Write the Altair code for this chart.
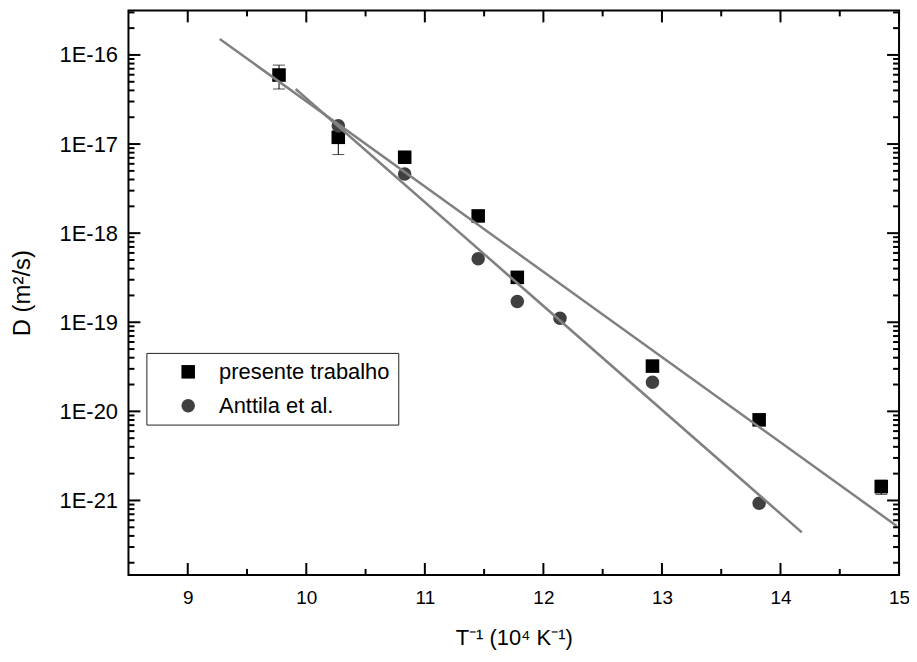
import altair as alt
import pandas as pd

# ---- data ----
series = ["presente trabalho", "Anttila et al."]

sq_x = [9.77, 10.27, 10.83, 11.45, 11.78, 12.92, 13.82, 14.85]
sq_d = [5.95e-17, 1.19e-17, 7.11e-18, 1.56e-18, 3.19e-19, 3.22e-20, 8.03e-21, 1.43e-21]

err_x = [9.77, 10.27, 14.85]
err_lo = [4.15e-17, 7.62e-18, 1.17e-21]
err_hi = [7.69e-17, 1.62e-17, 1.69e-21]

ant_x = [10.27, 10.83, 11.45, 11.78, 12.14, 12.92, 13.82]
ant_d = [1.60e-17, 4.62e-18, 5.16e-19, 1.71e-19, 1.11e-19, 2.12e-20, 9.29e-22]

fitA_x = [9.27, 14.98]
fitA_d = [1.51e-16, 5.18e-22]
fitB_x = [9.91, 14.18]
fitB_d = [4.15e-17, 4.38e-22]

x_major = [9, 10, 11, 12, 13, 14, 15]
x_minor = [9.5, 10.5, 11.5, 12.5, 13.5, 14.5]
decades = [1e-22, 1e-21, 1e-20, 1e-19, 1e-18, 1e-17, 1e-16]
mults = [2, 3, 4, 5, 6, 7, 8, 9]

X_DOMAIN = [8.5, 15]
Y_DOMAIN = [1.46e-22, 3.16e-16]

# ---- tables ----
pts = pd.DataFrame({
    "x": sq_x + ant_x,
    "d": sq_d + ant_d,
    "series": [series[0]] * len(sq_x) + [series[1]] * len(ant_x),
})
err = pd.DataFrame({"x": err_x, "lo": err_lo, "hi": err_hi})
fits = pd.DataFrame({
    "x": fitA_x + fitB_x,
    "d": fitA_d + fitB_d,
    "fit": ["A"] * len(fitA_x) + ["B"] * len(fitB_x),
})
y_major = pd.DataFrame({"v": [v for v in decades if Y_DOMAIN[0] <= v <= Y_DOMAIN[1]]})
y_minor = pd.DataFrame({"v": [m * v for v in decades for m in mults
                              if Y_DOMAIN[0] <= m * v <= Y_DOMAIN[1]]})
xM = pd.DataFrame({"v": x_major})
xm = pd.DataFrame({"v": x_minor})

W, H = 774, 567
FONT = "Liberation Sans"

xs = alt.Scale(domain=X_DOMAIN, nice=False, zero=False)
ys = alt.Scale(type="log", domain=Y_DOMAIN, nice=False)

xaxis = alt.Axis(title="T⁻¹ (10⁴ K⁻¹)", values=x_major, format="d", ticks=False,
                 domain=False, grid=False, labelFlush=False, labelPadding=14,
                 labelFontSize=19, titleFontSize=22, titlePadding=20,
                 labelColor="black", titleColor="black", titleFontWeight="normal")
yaxis = alt.Axis(title="D (m²/s)", values=decades[1:],
                 labelExpr="'1E' + round(log(datum.value) / LN10)",
                 ticks=False, domain=False, grid=False, labelPadding=11,
                 labelFontSize=22, titleFontSize=24, titlePadding=25,
                 labelColor="black", titleColor="black", titleFontWeight="normal")


def X(f):
    return alt.X(f, type="quantitative", scale=xs, axis=xaxis)


def Y(f):
    return alt.Y(f, type="quantitative", scale=ys, axis=yaxis)


errbars = alt.Chart(err).mark_rule(color="black", strokeWidth=1).encode(
    x=X("x"), y=Y("lo"), y2="hi")
cap_lo = alt.Chart(err).mark_tick(color="black", orient="horizontal", size=12,
                                  thickness=1).encode(x=X("x"), y=Y("lo"))
cap_hi = alt.Chart(err).mark_tick(color="black", orient="horizontal", size=12,
                                  thickness=1).encode(x=X("x"), y=Y("hi"))

leg = alt.Legend(title=None, orient="none", legendX=18, legendY=344,
                 strokeColor="#222222", fillColor="white", padding=8,
                 symbolOffset=23, labelOffset=20, rowPadding=12, labelLimit=400,
                 labelFontSize=22, labelFont=FONT, labelColor="black",
                 symbolSize=185, symbolStrokeWidth=0, cornerRadius=0)

points = alt.Chart(pts).mark_point(filled=True, opacity=1, size=185).encode(
    x=X("x"), y=Y("d"),
    color=alt.Color("series:N", scale=alt.Scale(domain=series, range=["#000000", "#404040"]),
                    legend=leg),
    shape=alt.Shape("series:N", scale=alt.Scale(domain=series, range=["square", "circle"]),
                    legend=leg),
    order=alt.Order("series:N", sort="descending"),
)

lines = alt.Chart(fits).mark_line(color="#808080", strokeWidth=2.5).encode(
    x=X("x"), y=Y("d"), detail="fit:N")

TK = dict(color="black", strokeWidth=2)
ticks = [
    alt.Chart(xM).mark_rule(**TK).encode(x=X("v"), y=alt.value(H), y2=alt.value(H - 12)),
    alt.Chart(xm).mark_rule(**TK).encode(x=X("v"), y=alt.value(H), y2=alt.value(H - 6)),
    alt.Chart(xM).mark_rule(**TK).encode(x=X("v"), y=alt.value(0), y2=alt.value(12)),
    alt.Chart(xm).mark_rule(**TK).encode(x=X("v"), y=alt.value(0), y2=alt.value(6)),
    alt.Chart(y_major).mark_rule(**TK).encode(y=Y("v"), x=alt.value(0), x2=alt.value(12)),
    alt.Chart(y_minor).mark_rule(**TK).encode(y=Y("v"), x=alt.value(0), x2=alt.value(6)),
    alt.Chart(y_major).mark_rule(**TK).encode(y=Y("v"), x=alt.value(W), x2=alt.value(W - 12)),
    alt.Chart(y_minor).mark_rule(**TK).encode(y=Y("v"), x=alt.value(W), x2=alt.value(W - 6)),
]

chart = alt.layer(errbars, cap_lo, cap_hi, points, lines, *ticks).properties(
    width=W, height=H,
    autosize=alt.AutoSizeParams(type="none"),
    padding={"left": 121, "top": 1, "right": 10, "bottom": 77},
).configure_view(stroke="black", strokeWidth=2).configure_axis(
    labelFont=FONT, titleFont=FONT
).configure_legend(labelFont=FONT)

chart.save("out.html", embed_options={"renderer": "svg", "actions": False})
